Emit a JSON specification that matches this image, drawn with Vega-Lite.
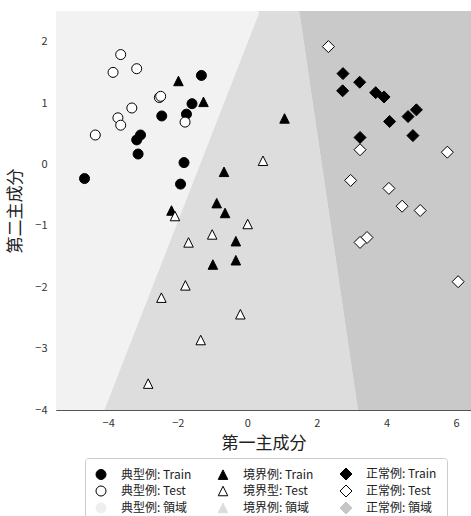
{
  "$schema": "https://vega.github.io/schema/vega-lite/v6.json",
  "width": 415,
  "height": 399,
  "autosize": {"type": "none"},
  "padding": {"left": 56, "top": 11, "right": 0, "bottom": 106},
  "background": "white",
  "config": {
    "view": {"stroke": "#555555", "strokeWidth": 1},
    "font": "Noto Sans CJK JP",
    "axis": {
      "grid": false, "ticks": false, "tickSize": 0, "domain": false,
      "labelFont": "Noto Sans CJK JP", "labelFontSize": 11, "labelColor": "#333333",
      "titleFont": "Noto Sans CJK JP", "titleFontSize": 17, "titleFontWeight": "normal", "titleColor": "#222222"
    },
    "legend": {
      "labelFont": "Noto Sans CJK JP", "labelFontSize": 12, "labelColor": "#222222",
      "symbolSize": 100, "symbolStrokeWidth": 1
    }
  },
  "datasets": {
    "regions": [
      {"region": "典型例", "y": -4, "x": -5.5, "x2": -4.11},
      {"region": "典型例", "y": 2.5, "x": -5.5, "x2": 0.36},
      {"region": "境界例", "y": -4, "x": -4.11, "x2": 3.18},
      {"region": "境界例", "y": 2.5, "x": 0.36, "x2": 1.49},
      {"region": "正常例", "y": -4, "x": 3.18, "x2": 6.43},
      {"region": "正常例", "y": 2.5, "x": 1.49, "x2": 6.43}
    ],
    "points": [
      {"label": "典型例: Train", "pc1": -1.32, "pc2": 1.45},
      {"label": "典型例: Train", "pc1": -1.59, "pc2": 0.99},
      {"label": "典型例: Train", "pc1": -1.75, "pc2": 0.82},
      {"label": "典型例: Train", "pc1": -2.46, "pc2": 0.79},
      {"label": "典型例: Train", "pc1": -3.07, "pc2": 0.48},
      {"label": "典型例: Train", "pc1": -3.18, "pc2": 0.40},
      {"label": "典型例: Train", "pc1": -3.14, "pc2": 0.17},
      {"label": "典型例: Train", "pc1": -1.82, "pc2": 0.03},
      {"label": "典型例: Train", "pc1": -1.92, "pc2": -0.32},
      {"label": "典型例: Train", "pc1": -4.68, "pc2": -0.23},
      {"label": "典型例: Test", "pc1": -3.64, "pc2": 1.79},
      {"label": "典型例: Test", "pc1": -3.86, "pc2": 1.50},
      {"label": "典型例: Test", "pc1": -3.18, "pc2": 1.56},
      {"label": "典型例: Test", "pc1": -2.53, "pc2": 1.09},
      {"label": "典型例: Test", "pc1": -2.49, "pc2": 1.11},
      {"label": "典型例: Test", "pc1": -3.32, "pc2": 0.92},
      {"label": "典型例: Test", "pc1": -3.72, "pc2": 0.76},
      {"label": "典型例: Test", "pc1": -3.64, "pc2": 0.64},
      {"label": "典型例: Test", "pc1": -1.79, "pc2": 0.69},
      {"label": "典型例: Test", "pc1": -4.37, "pc2": 0.48},
      {"label": "境界例: Train", "pc1": -1.98, "pc2": 1.36},
      {"label": "境界例: Train", "pc1": -1.26, "pc2": 1.02},
      {"label": "境界例: Train", "pc1": 1.07, "pc2": 0.75},
      {"label": "境界例: Train", "pc1": -0.67, "pc2": -0.12},
      {"label": "境界例: Train", "pc1": -0.88, "pc2": -0.63},
      {"label": "境界例: Train", "pc1": -0.64, "pc2": -0.79},
      {"label": "境界例: Train", "pc1": -2.18, "pc2": -0.75},
      {"label": "境界例: Train", "pc1": -0.33, "pc2": -1.25},
      {"label": "境界例: Train", "pc1": -0.33, "pc2": -1.56},
      {"label": "境界例: Train", "pc1": -0.99, "pc2": -1.63},
      {"label": "境界型: Test", "pc1": 0.45, "pc2": 0.06},
      {"label": "境界型: Test", "pc1": -2.08, "pc2": -0.84},
      {"label": "境界型: Test", "pc1": 0.01, "pc2": -0.97},
      {"label": "境界型: Test", "pc1": -1.01, "pc2": -1.14},
      {"label": "境界型: Test", "pc1": -1.69, "pc2": -1.27},
      {"label": "境界型: Test", "pc1": -1.78, "pc2": -1.97},
      {"label": "境界型: Test", "pc1": -2.47, "pc2": -2.17},
      {"label": "境界型: Test", "pc1": -0.20, "pc2": -2.44},
      {"label": "境界型: Test", "pc1": -1.34, "pc2": -2.86},
      {"label": "境界型: Test", "pc1": -2.85, "pc2": -3.57},
      {"label": "正常例: Train", "pc1": 2.75, "pc2": 1.48},
      {"label": "正常例: Train", "pc1": 3.23, "pc2": 1.34},
      {"label": "正常例: Train", "pc1": 2.74, "pc2": 1.20},
      {"label": "正常例: Train", "pc1": 3.69, "pc2": 1.17},
      {"label": "正常例: Train", "pc1": 3.93, "pc2": 1.10},
      {"label": "正常例: Train", "pc1": 4.86, "pc2": 0.89},
      {"label": "正常例: Train", "pc1": 4.62, "pc2": 0.78},
      {"label": "正常例: Train", "pc1": 4.09, "pc2": 0.70},
      {"label": "正常例: Train", "pc1": 4.76, "pc2": 0.47},
      {"label": "正常例: Train", "pc1": 3.24, "pc2": 0.44},
      {"label": "正常例: Test", "pc1": 2.33, "pc2": 1.92},
      {"label": "正常例: Test", "pc1": 3.24, "pc2": 0.24},
      {"label": "正常例: Test", "pc1": 5.75, "pc2": 0.20},
      {"label": "正常例: Test", "pc1": 2.97, "pc2": -0.26},
      {"label": "正常例: Test", "pc1": 4.07, "pc2": -0.39},
      {"label": "正常例: Test", "pc1": 4.45, "pc2": -0.68},
      {"label": "正常例: Test", "pc1": 4.97, "pc2": -0.75},
      {"label": "正常例: Test", "pc1": 3.44, "pc2": -1.19},
      {"label": "正常例: Test", "pc1": 3.24, "pc2": -1.27},
      {"label": "正常例: Test", "pc1": 6.06, "pc2": -1.91}
    ]
  },
  "layer": [
    {
      "data": {"name": "regions"},
      "transform": [{"filter": "datum.region === '典型例'"}],
      "mark": {"type": "area", "orient": "horizontal", "color": "#f2f2f2", "opacity": 1},
      "encoding": {
        "y": {
          "field": "y", "type": "quantitative", "title": "第二主成分",
          "scale": {"domain": [-4, 2.5], "nice": false, "zero": false},
          "axis": {"values": [-4, -3, -2, -1, 0, 1, 2], "format": "d", "labelPadding": 9, "titleBaseline": "middle", "titleX": -41, "titleY": 199.5, "titleAngle": -90, "titleAnchor": "middle"}
        },
        "x": {
          "field": "x", "type": "quantitative", "title": "第一主成分",
          "scale": {"domain": [-5.5, 6.43], "nice": false, "zero": false},
          "axis": {"values": [-4, -2, 0, 2, 4, 6], "format": "d", "labelPadding": 7, "titleBaseline": "middle", "titleY": 33, "titleX": 207.5, "titleAnchor": "middle"}
        },
        "x2": {"field": "x2"}
      }
    },
    {
      "data": {"name": "regions"},
      "transform": [{"filter": "datum.region === '境界例'"}],
      "mark": {"type": "area", "orient": "horizontal", "color": "#dddddd", "opacity": 1},
      "encoding": {
        "y": {"field": "y", "type": "quantitative", "title": "第二主成分"},
        "x": {"field": "x", "type": "quantitative", "title": "第一主成分"},
        "x2": {"field": "x2"}
      }
    },
    {
      "data": {"name": "regions"},
      "transform": [{"filter": "datum.region === '正常例'"}],
      "mark": {"type": "area", "orient": "horizontal", "color": "#c9c9c9", "opacity": 1},
      "encoding": {
        "y": {"field": "y", "type": "quantitative", "title": "第二主成分"},
        "x": {"field": "x", "type": "quantitative", "title": "第一主成分"},
        "x2": {"field": "x2"}
      }
    },
    {
      "data": {"name": "points"},
      "mark": {"type": "point", "size": 100, "strokeWidth": 1, "opacity": 1, "fillOpacity": 1, "strokeOpacity": 1},
      "encoding": {
        "x": {"field": "pc1", "type": "quantitative", "title": "第一主成分"},
        "y": {"field": "pc2", "type": "quantitative", "title": "第二主成分"},
        "shape": {
          "field": "label", "type": "nominal",
          "scale": {
            "domain": ["典型例: Train", "典型例: Test", "典型例: 領域", "境界例: Train", "境界型: Test", "境界例: 領域", "正常例: Train", "正常例: Test", "正常例: 領域"],
            "range": ["circle", "circle", "circle", "M0,-0.95L0.95,0.95L-0.95,0.95Z", "M0,-0.95L0.95,0.95L-0.95,0.95Z", "M0,-0.95L0.95,0.95L-0.95,0.95Z", "M-1.2,0L0,-1.2L1.2,0L0,1.2Z", "M-1.2,0L0,-1.2L1.2,0L0,1.2Z", "M-1.2,0L0,-1.2L1.2,0L0,1.2Z"]
          },
          "legend": {"title": null, "orient": "none", "legendX": 29, "legendY": 447, "columns": 3, "padding": 10, "rowPadding": 1, "columnPadding": 24, "labelOffset": 14, "strokeColor": "#cccccc", "fillColor": "white", "cornerRadius": 3}
        },
        "fill": {
          "field": "label", "type": "nominal",
          "scale": {
            "domain": ["典型例: Train", "典型例: Test", "典型例: 領域", "境界例: Train", "境界型: Test", "境界例: 領域", "正常例: Train", "正常例: Test", "正常例: 領域"],
            "range": ["#000000", "#ffffff", "#eeeeee", "#000000", "#ffffff", "#dcdcdc", "#000000", "#ffffff", "#c6c6c6"]
          },
          "legend": {"title": null, "orient": "none", "legendX": 29, "legendY": 447, "columns": 3, "padding": 10, "rowPadding": 1, "columnPadding": 24, "labelOffset": 14, "strokeColor": "#cccccc", "fillColor": "white", "cornerRadius": 3}
        },
        "stroke": {
          "field": "label", "type": "nominal",
          "scale": {
            "domain": ["典型例: Train", "典型例: Test", "典型例: 領域", "境界例: Train", "境界型: Test", "境界例: 領域", "正常例: Train", "正常例: Test", "正常例: 領域"],
            "range": ["#000000", "#000000", "#eeeeee", "#000000", "#000000", "#dcdcdc", "#000000", "#000000", "#c6c6c6"]
          },
          "legend": {"title": null, "orient": "none", "legendX": 29, "legendY": 447, "columns": 3, "padding": 10, "rowPadding": 1, "columnPadding": 24, "labelOffset": 14, "strokeColor": "#cccccc", "fillColor": "white", "cornerRadius": 3}
        }
      }
    }
  ]
}
